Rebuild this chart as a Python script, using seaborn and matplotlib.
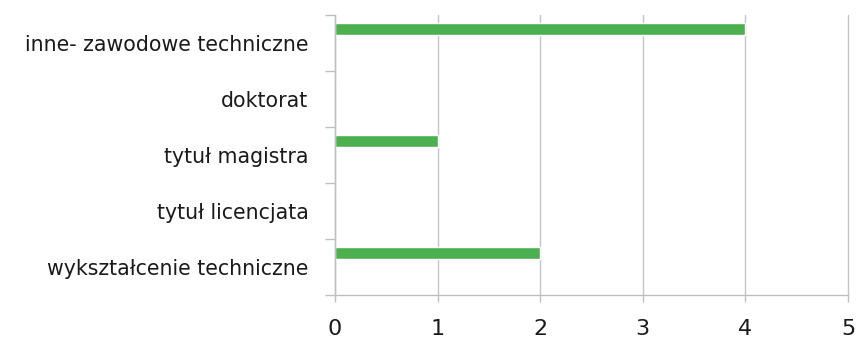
import matplotlib
matplotlib.use("Agg")
import matplotlib.pyplot as plt
import seaborn as sns
import pandas as pd
import numpy as np

categories = [
    "inne- zawodowe techniczne",
    "doktorat",
    "tytuł magistra",
    "tytuł licencjata",
    "wykształcenie techniczne",
]
counts = [4, 0, 1, 0, 2]
x_ticks = [0, 1, 2, 3, 4, 5]

df = pd.DataFrame({"kategoria": categories, "liczba": counts})

sns.set_theme(style="white")
plt.rcParams["font.family"] = ["DejaVu Sans"]

fig = plt.figure(figsize=(8.56, 3.38), dpi=100)
ax = fig.add_axes([335 / 856, 1 - 295 / 338, (848 - 335) / 856, (295 - 15) / 338])

sns.barplot(data=df, y="kategoria", x="liczba", orient="h", color="#4caf50",
            width=0.22, saturation=1, ax=ax)

# bars sit in the upper part of each category band
for p in ax.patches:
    p.set_y(p.get_y() - 0.245)

ax.set_xlim(0, 5)
ax.set_ylim(len(categories) - 0.5, -0.5)
ax.set_xticks(x_ticks)
ax.set_xticklabels([str(t) for t in x_ticks], fontsize=16, color="#1a1a1a")
ax.set_xlabel("")
ax.set_ylabel("")
ax.tick_params(axis="y", which="major", left=False, length=0, pad=19,
               labelsize=14.8, labelcolor="#1a1a1a")
ax.set_yticks(np.arange(-0.5, len(categories) + 0.5, 1), minor=True)
ax.tick_params(axis="y", which="minor", left=True, length=7, width=1,
               color="#bfbfbf", direction="out")
ax.tick_params(axis="x", which="major", bottom=True, length=5, width=1,
               color="#bfbfbf", direction="out", pad=12)

ax.grid(axis="x", color="#c4c4c4", linewidth=1)
for gl in ax.get_xgridlines():
    gl.set_clip_on(False)
ax.set_axisbelow(True)
for side in ["top", "right"]:
    ax.spines[side].set_visible(False)
for side in ["left", "bottom"]:
    ax.spines[side].set_color("#bfbfbf")
    ax.spines[side].set_linewidth(1)

fig.savefig("out.png", dpi=100)
